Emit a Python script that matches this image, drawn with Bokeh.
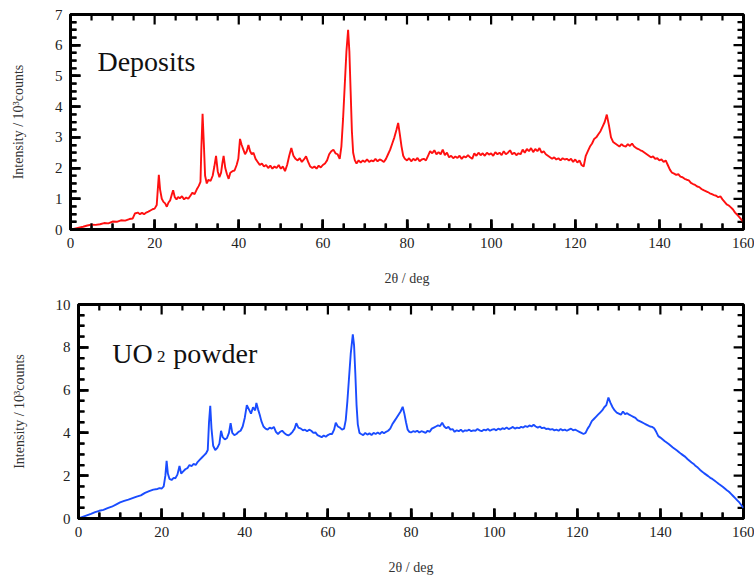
from bokeh.plotting import figure
from bokeh.layouts import column, row
from bokeh.models import Range1d, LinearAxis, SingleIntervalTicker, Label, Spacer
from bokeh.embed import file_html
from bokeh.resources import INLINE

# ---------------- data ----------------
dep_x = [0, 1, 2, 3, 4, 5, 6, 7, 8, 9, 10, 11, 12, 13, 14, 14.8, 15.3, 16, 16.5, 17, 17.5, 18, 18.5, 19, 19.5, 20,
         20.5, 20.8, 21.0, 21.3, 21.7, 22.1, 22.5, 22.9, 23.3, 23.7, 24.1, 24.4, 24.8, 25.2, 25.6, 26, 26.5, 27, 27.5,
         28, 28.5, 29, 29.5, 30, 30.5, 30.9, 31.1, 31.4, 31.7, 32.0, 32.4, 32.8, 33.3, 33.8, 34.2, 34.6, 35.0, 35.4,
         35.8, 36.1, 36.4, 36.8, 37.2, 37.6, 38, 38.5, 39, 39.5, 39.9, 40.3, 40.7, 41.1, 41.5, 41.9, 42.3, 42.7, 43.1,
         43.5, 44, 44.5, 45, 45.5, 46, 46.5, 47, 47.5, 48, 48.5, 49, 49.5, 50, 50.5, 51, 51.5, 52, 52.5, 53, 53.5, 54,
         54.5, 55, 55.5, 56, 56.5, 57, 57.5, 58, 58.5, 59, 59.5, 60, 60.5, 61, 61.5, 62, 62.5, 63, 63.5, 64, 64.4, 64.8,
         65.2, 65.6, 66.0, 66.3, 66.6, 66.9, 67.2, 67.6, 68, 68.5, 69, 69.5, 70, 70.5, 71, 71.5, 72, 72.5, 73, 73.5, 74,
         74.5, 75, 75.5, 76, 76.5, 77, 77.5, 77.9, 78.3, 78.7, 79.1, 79.5, 80, 80.5, 81, 81.5, 82, 82.5, 83, 83.5, 84,
         84.5, 85, 85.5, 86, 86.5, 87, 87.5, 88, 88.5, 89, 89.5, 90, 90.5, 91, 91.5, 92, 92.5, 93, 93.5, 94, 94.5, 95,
         95.5, 96, 96.5, 97, 97.5, 98, 98.5, 99, 99.5, 100, 100.5, 101, 101.5, 102, 102.5, 103, 103.5, 104, 104.5, 105,
         105.5, 106, 106.5, 107, 107.5, 108, 108.5, 109, 109.5, 110, 110.5, 111, 111.5, 112, 112.5, 113, 113.5, 114,
         114.5, 115, 115.5, 116, 116.5, 117, 117.5, 118, 118.5, 119, 119.5, 120, 120.5, 121, 121.5, 122, 122.5, 123,
         123.5, 124, 124.5, 125, 125.5, 126, 126.5, 127, 127.5, 128, 128.5, 129, 129.5, 130, 130.5, 131, 131.5, 132,
         132.5, 133, 133.5, 134, 134.5, 135, 135.5, 136, 136.5, 137, 137.5, 138, 138.5, 139, 139.5, 140, 140.5, 141,
         141.5, 142, 142.5, 143, 143.5, 144, 144.5, 145, 145.5, 146, 146.5, 147, 147.5, 148, 148.5, 149, 149.5, 150,
         150.5, 151, 151.5, 152, 152.5, 153, 153.5, 154, 154.5, 155, 155.5, 156, 156.5, 157, 157.5, 158, 158.5, 159,
         159.5, 160]
dep_y = [0.00, 0.03, 0.06, 0.09, 0.13, 0.16, 0.15, 0.17, 0.21, 0.20, 0.26, 0.25, 0.30, 0.29, 0.34, 0.36, 0.52, 0.55,
         0.50, 0.54, 0.50, 0.55, 0.58, 0.62, 0.66, 0.68, 0.80, 1.40, 1.78, 1.30, 1.00, 0.90, 0.85, 0.74, 0.88, 0.95,
         1.15, 1.28, 1.05, 0.98, 1.06, 1.02, 1.08, 0.98, 1.04, 1.00, 1.10, 1.20, 1.15, 1.30, 1.42, 1.55, 2.60, 3.77,
         2.80, 1.75, 1.50, 1.62, 1.58, 1.75, 2.05, 2.40, 1.90, 1.70, 1.85, 2.15, 2.40, 2.00, 1.80, 1.65, 1.85, 1.90,
         1.92, 2.10, 2.30, 2.95, 2.75, 2.60, 2.45, 2.55, 2.75, 2.55, 2.45, 2.50, 2.30, 2.20, 2.10, 2.15, 2.05, 2.10,
         2.00, 2.08, 1.98, 2.05, 2.00, 2.10, 1.98, 2.05, 1.90, 2.10, 2.40, 2.65, 2.40, 2.30, 2.25, 2.32, 2.20, 2.28,
         2.38, 2.20, 2.05, 2.00, 2.05, 1.98, 2.08, 2.02, 2.10, 2.15, 2.25, 2.45, 2.55, 2.60, 2.48, 2.45, 2.30, 2.70,
         3.60, 4.70, 5.80, 6.50, 5.80, 4.50, 3.20, 2.50, 2.25, 2.15, 2.25, 2.18, 2.25, 2.20, 2.28, 2.20, 2.25, 2.22,
         2.30, 2.22, 2.28, 2.25, 2.20, 2.30, 2.45, 2.60, 2.80, 3.00, 3.25, 3.47, 3.10, 2.70, 2.40, 2.30, 2.25, 2.32,
         2.22, 2.30, 2.25, 2.33, 2.22, 2.28, 2.30, 2.25, 2.40, 2.55, 2.48, 2.58, 2.45, 2.52, 2.45, 2.60, 2.42, 2.50,
         2.35, 2.40, 2.32, 2.38, 2.33, 2.40, 2.30, 2.38, 2.35, 2.42, 2.35, 2.30, 2.48, 2.40, 2.50, 2.42, 2.48, 2.40,
         2.50, 2.44, 2.48, 2.40, 2.52, 2.45, 2.50, 2.42, 2.55, 2.45, 2.50, 2.58, 2.45, 2.50, 2.42, 2.48, 2.45, 2.60,
         2.50, 2.62, 2.55, 2.65, 2.52, 2.62, 2.55, 2.65, 2.50, 2.55, 2.45, 2.40, 2.35, 2.30, 2.35, 2.28, 2.32, 2.25,
         2.32, 2.28, 2.30, 2.25, 2.30, 2.20, 2.28, 2.18, 2.25, 2.10, 2.05, 2.40, 2.55, 2.70, 2.80, 2.95, 3.00, 3.10,
         3.20, 3.35, 3.50, 3.74, 3.40, 3.00, 2.85, 2.80, 2.75, 2.70, 2.78, 2.72, 2.70, 2.78, 2.72, 2.80, 2.70, 2.65,
         2.62, 2.58, 2.55, 2.50, 2.45, 2.40, 2.35, 2.38, 2.30, 2.32, 2.25, 2.28, 2.20, 2.25, 2.10, 1.95, 1.85, 1.82,
         1.78, 1.80, 1.72, 1.70, 1.65, 1.62, 1.60, 1.52, 1.48, 1.45, 1.40, 1.38, 1.32, 1.28, 1.25, 1.22, 1.18, 1.15,
         1.12, 1.10, 1.05, 1.08, 0.98, 0.90, 0.82, 0.78, 0.72, 0.65, 0.55, 0.48, 0.40, 0.32, 0.24]

uo2_x = [0, 1, 2, 3, 4, 5, 6, 7, 8, 9, 10, 11, 12, 13, 14, 15, 16, 17, 18, 19, 19.5, 20, 20.5, 20.9, 21.2, 21.5, 21.9,
         22.4, 22.9, 23.3, 23.8, 24.3, 24.7, 25.2, 25.7, 26.2, 26.7, 27.2, 27.7, 28.2, 28.7, 29.2, 29.7, 30.2, 30.7,
         31.1, 31.4, 31.7, 32.0, 32.4, 32.9, 33.4, 33.9, 34.3, 34.7, 35.2, 35.7, 36.2, 36.6, 37.0, 37.5, 38, 38.5, 39,
         39.5, 40, 40.5, 41, 41.5, 42, 42.5, 42.8, 43.2, 43.6, 44, 44.5, 45, 45.5, 46, 46.5, 47, 47.5, 48, 48.5, 49,
         49.5, 50, 50.5, 51, 51.5, 52, 52.4, 52.9, 53.5, 54, 54.5, 55, 55.5, 56, 56.5, 57, 57.5, 58, 58.5, 59, 59.5,
         60, 60.5, 61, 61.5, 61.9, 62.4, 62.9, 63.4, 63.9, 64.3, 64.7, 65.1, 65.5, 66.0, 66.3, 66.6, 66.9, 67.2, 67.6,
         68, 68.5, 69, 69.5, 70, 70.5, 71, 71.5, 72, 72.5, 73, 73.5, 74, 74.5, 75, 75.5, 76, 76.5, 77, 77.5, 78, 78.4,
         78.8, 79.2, 79.6, 80, 80.5, 81, 81.5, 82, 82.5, 83, 83.5, 84, 84.5, 85, 85.5, 86, 86.5, 87, 87.5, 88, 88.5,
         89, 89.5, 90, 90.5, 91, 91.5, 92, 92.5, 93, 93.5, 94, 94.5, 95, 95.5, 96, 96.5, 97, 97.5, 98, 98.5, 99, 99.5,
         100, 100.5, 101, 101.5, 102, 102.5, 103, 103.5, 104, 104.5, 105, 105.5, 106, 106.5, 107, 107.5, 108, 108.5,
         109, 109.5, 110, 110.5, 111, 111.5, 112, 112.5, 113, 113.5, 114, 114.5, 115, 115.5, 116, 116.5, 117, 117.5,
         118, 118.5, 119, 119.5, 120, 120.5, 121, 121.5, 122, 122.5, 123, 123.5, 124, 124.5, 125, 125.5, 126, 126.5,
         127, 127.5, 128, 128.5, 129, 129.5, 130, 130.5, 131, 131.5, 132, 132.5, 133, 133.5, 134, 134.5, 135, 135.5,
         136, 136.5, 137, 137.5, 138, 138.5, 139, 139.5, 140, 140.5, 141, 141.5, 142, 142.5, 143, 143.5, 144, 144.5,
         145, 145.5, 146, 146.5, 147, 147.5, 148, 148.5, 149, 149.5, 150, 150.5, 151, 151.5, 152, 152.5, 153, 153.5,
         154, 154.5, 155, 155.5, 156, 156.5, 157, 157.5, 158, 158.5, 159, 159.5, 160]
uo2_y = [0.00, 0.08, 0.15, 0.22, 0.30, 0.36, 0.40, 0.48, 0.55, 0.65, 0.75, 0.82, 0.88, 0.95, 1.02, 1.08, 1.20, 1.28,
         1.35, 1.38, 1.42, 1.40, 1.50, 2.00, 2.70, 2.10, 1.85, 1.80, 1.90, 1.88, 2.05, 2.45, 2.10, 2.20, 2.30, 2.35,
         2.50, 2.45, 2.55, 2.50, 2.65, 2.75, 2.85, 2.95, 3.05, 3.20, 4.50, 5.27, 4.20, 3.40, 3.20, 3.30, 3.50, 4.10,
         3.80, 3.70, 3.75, 4.00, 4.45, 4.00, 3.90, 3.95, 4.05, 4.10, 4.30, 4.70, 5.30, 5.10, 4.90, 5.20, 5.05, 5.40,
         5.10, 4.85, 4.55, 4.30, 4.20, 4.15, 4.25, 4.20, 4.28, 4.05, 3.95, 4.05, 4.10, 4.00, 3.92, 3.88, 3.95, 4.05,
         4.20, 4.45, 4.25, 4.20, 4.12, 4.15, 4.08, 4.15, 4.10, 4.00, 4.02, 3.90, 3.85, 3.80, 3.88, 3.82, 3.90, 3.95,
         3.95, 4.15, 4.48, 4.30, 4.25, 4.15, 4.20, 4.60, 5.50, 6.60, 7.70, 8.60, 8.10, 6.80, 5.30, 4.40, 4.00, 3.95,
         3.90, 4.00, 3.92, 3.98, 3.90, 4.00, 3.95, 4.02, 3.95, 4.05, 3.98, 4.05, 4.10, 4.20, 4.40, 4.55, 4.70, 4.85,
         5.00, 5.22, 4.90, 4.50, 4.15, 4.05, 4.02, 4.08, 4.05, 4.10, 4.02, 4.08, 4.05, 4.00, 4.10, 4.05, 4.20, 4.25,
         4.30, 4.35, 4.32, 4.48, 4.30, 4.22, 4.28, 4.15, 4.18, 4.05, 4.12, 4.08, 4.15, 4.05, 4.12, 4.10, 4.15, 4.08,
         4.12, 4.10, 4.18, 4.12, 4.08, 4.15, 4.12, 4.18, 4.10, 4.15, 4.18, 4.12, 4.20, 4.15, 4.22, 4.18, 4.25, 4.18,
         4.22, 4.28, 4.20, 4.25, 4.22, 4.28, 4.25, 4.32, 4.28, 4.35, 4.30, 4.38, 4.30, 4.25, 4.30, 4.22, 4.25, 4.18,
         4.20, 4.15, 4.18, 4.12, 4.15, 4.10, 4.18, 4.12, 4.15, 4.10, 4.15, 4.20, 4.12, 4.15, 4.10, 4.05, 4.00, 3.95,
         4.00, 4.20, 4.35, 4.55, 4.65, 4.75, 4.85, 4.95, 5.05, 5.20, 5.30, 5.65, 5.40, 5.20, 5.05, 4.95, 4.90, 4.85,
         5.00, 4.88, 4.92, 4.85, 4.80, 4.75, 4.70, 4.60, 4.55, 4.50, 4.45, 4.40, 4.35, 4.30, 4.28, 4.22, 4.05, 3.85,
         3.78, 3.70, 3.62, 3.55, 3.48, 3.40, 3.32, 3.25, 3.18, 3.10, 3.02, 2.95, 2.88, 2.78, 2.70, 2.62, 2.55, 2.45,
         2.38, 2.28, 2.20, 2.12, 2.05, 1.98, 1.90, 1.85, 1.78, 1.70, 1.62, 1.55, 1.48, 1.40, 1.32, 1.25, 1.15, 1.05,
         0.95, 0.85, 0.75, 0.62, 0.50]

x_max = 160
dep_y_max = 7
uo2_y_max = 10
x_major, x_minor = 20, 5
dep_y_major, dep_y_minor = 1, 0.25
uo2_y_major, uo2_y_minor = 2, 0.5
x_label = "2θ / deg"
y_label = "Intensity / 10³counts"

FONT = "Liberation Serif"
FRAME_W, FRAME_H = 673, 215
MAJ_LEN, MIN_LEN = 10, 6


def style_axis(ax):
    ax.axis_line_color = "black"
    ax.axis_line_width = 2.5
    ax.major_tick_in = MAJ_LEN
    ax.major_tick_out = 0
    ax.minor_tick_in = MIN_LEN
    ax.minor_tick_out = 0
    ax.major_tick_line_color = "black"
    ax.major_tick_line_width = 2.5
    ax.minor_tick_line_color = "black"
    ax.minor_tick_line_width = 2
    ax.major_label_text_font = FONT
    ax.major_label_text_color = "#222222"
    ax.major_label_text_font_size = "15px"
    ax.major_label_standoff = 8
    ax.axis_label_text_font = FONT
    ax.axis_label_text_font_style = "normal"
    ax.axis_label_text_color = "#333333"
    ax.axis_label_text_font_size = "14px"


def grid_positions(top, step):
    n = int(round(top / step))
    return [round(i * step, 6) for i in range(n + 1)]


def comb(positions, major_step, base, sign, unit, horizontal):
    """One continuous polyline along a frame edge with an inward excursion at every tick."""
    xs, ys = [], []
    for v in positions:
        is_major = abs(v / major_step - round(v / major_step)) < 1e-6
        tip = base + sign * (MAJ_LEN if is_major else MIN_LEN) * unit
        if horizontal:
            xs += [v, v, v]
            ys += [base, tip, base]
        else:
            xs += [base, tip, base]
            ys += [v, v, v]
    return xs, ys


def add_ticks(p, ymax, ymaj, ymin):
    sx = x_max / FRAME_W
    sy = ymax / FRAME_H
    xpos = grid_positions(x_max, x_minor)
    ypos = grid_positions(ymax, ymin)
    for xs, ys in (comb(xpos, x_major, 0.0, +1, sy, True),
                   comb(xpos, x_major, float(ymax), -1, sy, True),
                   comb(ypos, ymaj, 0.0, +1, sx, False),
                   comb(ypos, ymaj, float(x_max), -1, sx, False)):
        p.line(xs, ys, line_color="#000000", line_width=2.2, line_join="bevel")


def make_panel(xs, ys, ymax, ymaj, ymin, color, width, height, bottom):
    p = figure(width=width, height=height, output_backend="svg", toolbar_location=None,
               x_range=Range1d(0, x_max), y_range=Range1d(0, ymax),
               min_border_left=70, min_border_right=11, min_border_top=14, min_border_bottom=bottom,
               x_axis_location=None, y_axis_location=None)
    p.xgrid.visible = False
    p.ygrid.visible = False
    p.outline_line_color = "black"
    p.outline_line_width = 3
    p.background_fill_color = "white"
    p.border_fill_color = "white"

    bx = LinearAxis(ticker=SingleIntervalTicker(interval=x_major, num_minor_ticks=4), axis_label=x_label)
    style_axis(bx)
    bx.axis_label_standoff = 20
    p.add_layout(bx, "below")

    ly = LinearAxis(ticker=SingleIntervalTicker(interval=ymaj, num_minor_ticks=4), axis_label=y_label)
    style_axis(ly)
    ly.axis_label_standoff = 26
    p.add_layout(ly, "left")

    add_ticks(p, ymax, ymaj, ymin)
    p.line(xs, ys, line_color=color, line_width=1.9)
    return p


p1 = make_panel(dep_x, dep_y, dep_y_max, dep_y_major, dep_y_minor, "#ff1010", 754, 290, 61)
p1.add_layout(Label(x=6.4, y=5.47, text="Deposits", text_font=FONT, text_font_size="28px",
                    text_color="#111111", text_baseline="alphabetic"))

p2 = make_panel(uo2_x, uo2_y, uo2_y_max, uo2_y_major, uo2_y_minor, "#1a4cff", 746, 287, 58)
p2.add_layout(Label(x=8.1, y=7.73, text="UO", text_font=FONT, text_font_size="28px",
                    text_color="#111111", text_baseline="alphabetic"))
p2.add_layout(Label(x=18.9, y=7.55, text="2", text_font=FONT, text_font_size="17px",
                    text_color="#111111", text_baseline="alphabetic"))
p2.add_layout(Label(x=22.8, y=7.73, text="powder", text_font=FONT, text_font_size="28px",
                    text_color="#111111", text_baseline="alphabetic"))

layout = column(p1, row(Spacer(width=8, height=287), p2, spacing=0), spacing=0)
open("out.html", "w").write(file_html(layout, INLINE))
